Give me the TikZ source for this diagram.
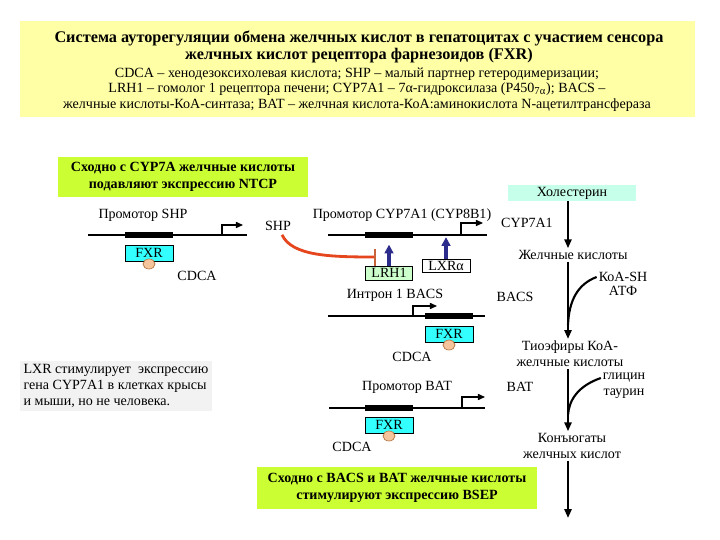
\documentclass[tikz,border=0pt]{standalone}
\usepackage{fontspec}
\setmainfont{Liberation Serif}
\usetikzlibrary{arrows.meta, calc, positioning, shapes.geometric}
\definecolor{hdryellow}{HTML}{FFFFA6}
\definecolor{notelime}{HTML}{CCFF33}
\definecolor{fxrcyan}{HTML}{33FFFF}
\definecolor{cholaqua}{HTML}{C6FFEA}
\definecolor{lrhgreen}{HTML}{CCFFCC}
\definecolor{capeach}{HTML}{F4C59C}
\definecolor{capedge}{HTML}{B87A4A}
\definecolor{actnavy}{HTML}{2C2C8C}
\definecolor{inhred}{HTML}{E5461E}
\definecolor{inhbrown}{HTML}{C8643C}
\newcommand{\lblfont}{\fontsize{8}{9.1}\selectfont}
\tikzset{
  lbl/.style={font=\lblfont, inner sep=1pt, align=center},
  dna/.style={line width=0.6pt},
  exon/.style={line width=3pt},
  tss/.style={line width=0.6pt, -{Triangle[length=4pt,width=3.5pt]}},
  fxrbox/.style={draw, fill=fxrcyan, font=\lblfont, minimum width=0.96cm, minimum height=0.32cm, inner sep=0pt},
  ligand/.style={ellipse, draw=capedge, fill=capeach, minimum width=0.24cm, minimum height=0.2cm, inner sep=0pt},
  notebox/.style={fill=notelime, font=\bfseries\fontsize{8}{9.4}\selectfont, align=center, inner sep=0pt},
  chain/.style={line width=1.2pt, -{Triangle[length=5pt,width=4pt]}},
  act/.style={actnavy, line width=1.8pt, -{Triangle[length=5pt,width=5pt]}},
}
\begin{document}
\begin{tikzpicture}[x=0.02cm, y=-0.02cm]
\useasboundingbox (0,0) rectangle (720,540);
% header
\fill[hdryellow] (20,21) rectangle (695,117);
\node[font=\bfseries\fontsize{9.25}{9.6}\selectfont, align=center] (title) at (359,46.5)
  {Система ауторегуляции обмена желчных кислот в гепатоцитах с участием сенсора\\
   желчных кислот рецептора фарнезоидов (FXR)};
\node[font=\fontsize{8}{8.8}\selectfont, align=center] (defs) at (357,89.5)
  {CDCA – хенодезоксихолевая кислота; SHP – малый партнер гетеродимеризации;\\
   LRH1 – гомолог 1 рецептора печени; CYP7A1 – 7α-гидроксилаза (P450\textsubscript{7α}); BACS –\\
   желчные кислоты-КоА-синтаза; BAT – желчная кислота-КоА:аминокислота N-ацетилтрансфераза};
% notes
\node[notebox, minimum width=5cm, minimum height=0.8cm] (ntcp) at (183,177)
  {Сходно с CYP7A желчные кислоты\\подавляют экспрессию NTCP};
\node[notebox, minimum width=5.6cm, minimum height=0.86cm] (bsep) at (397,488)
  {Сходно с BACS и BAT желчные кислоты\\стимулируют экспрессию BSEP};
\node[lbl, fill=gray!10, align=left, inner sep=2pt] (lxrnote) at (116,386)
  {LXR стимулирует\ \ экспрессию\\гена CYP7A1 в клетках крысы\\и мыши, но не человека.};
% SHP promoter
\node[lbl] (pshp) at (143,215) {Промотор SHP};
\draw[dna] (88,235) -- (247,235);
\draw[exon] (125,235) -- (173,235);
\draw[tss] (222,235) |- (243,225);
\node[fxrbox] (fxr1) at (149,253) {FXR};
\node[ligand] (ca1) at (149,264) {};
\node[lbl] (cdca1) at (197,276) {CDCA};
\node[lbl] (shp) at (278,226) {SHP};
% CYP7A1 promoter
\node[lbl] (pcyp) at (402,215) {Промотор CYP7A1 (CYP8B1)};
\draw[dna] (328,235) -- (487,235);
\draw[exon] (365,235) -- (413,235);
\draw[tss] (461,235) |- (483,223);
\node[lbl, draw, fill=lrhgreen, minimum width=0.94cm, minimum height=0.28cm, inner sep=0pt] (lrh) at (389,273) {LRH1};
\node[lbl, draw, fill=white, minimum width=0.96cm, minimum height=0.26cm, inner sep=0pt] (lxr) at (446,266) {LXRα};
\draw[act] (lrh.north) -- ++(0,-21);
\draw[act] (lxr.north) -- ++(0,-22);
\coordinate (tbar) at (375,257);
\draw[inhred, line width=1.6pt] (shp.south) ++(4,2) .. controls (292,256) and (330,257) .. (tbar);
\draw[inhbrown, line width=1.2pt] ($(tbar)+(0,-8)$) -- ($(tbar)+(0,9)$);
% BACS intron
\node[lbl] (pbacs) at (395,295) {Интрон 1 BACS};
\draw[dna] (328,316) -- (485,316);
\draw[exon] (425,316) -- (473,316);
\draw[tss] (413,316) |- (437,306);
\node[fxrbox] (fxr2) at (449,334) {FXR};
\node[ligand] (ca2) at (449,345) {};
\node[lbl] (cdca2) at (412,357) {CDCA};
% BAT promoter
\node[lbl] (pbat) at (407,387) {Промотор BAT};
\draw[dna] (329,408) -- (485,408);
\draw[exon] (365,408) -- (413,408);
\draw[tss] (462,408) |- (485,397);
\node[fxrbox] (fxr3) at (389,425) {FXR};
\node[ligand] (ca3) at (389,436) {};
\node[lbl] (cdca3) at (352,447) {CDCA};
% pathway
\coordinate (axis) at (568,0);
\node[lbl, fill=cholaqua, minimum width=2.58cm, minimum height=0.32cm, inner sep=0pt] (chol) at (572,193) {Холестерин};
\node[lbl] (ba) at (573,255) {Желчные кислоты};
\node[lbl] (thio) at (570,354) {Тиоэфиры КоА-\\желчные кислоты};
\node[lbl] (conj) at (572,446) {Конъюгаты\\желчных кислот};
\coordinate (bile) at (568,518);
\node[lbl] (cyp) at (527,223) {CYP7A1};
\node[lbl] (bacs) at (515,297) {BACS};
\node[lbl] (bat) at (520,387) {BAT};
\node[lbl] (koa) at (623,277) {КоА-SH};
\node[lbl] (atf) at (623,291) {АТФ};
\node[lbl] (gly) at (624,378) {глицин};
\node[lbl] (tau) at (624,394) {таурин};
\draw[chain] (chol.south -| axis) -- (ba.north -| axis);
\draw[chain] (ba.south -| axis) -- (thio.north -| axis);
\draw[chain] (thio.south -| axis) -- (conj.north -| axis);
\draw[chain] (conj.south -| axis) -- (bile);
\draw[line width=1.2pt] (koa.west) .. controls (578,284) and (569,300) .. (568,325);
\draw[line width=1.2pt] (gly.west) .. controls (578,386) and (569,400) .. (568,415);
\end{tikzpicture}
\end{document}
